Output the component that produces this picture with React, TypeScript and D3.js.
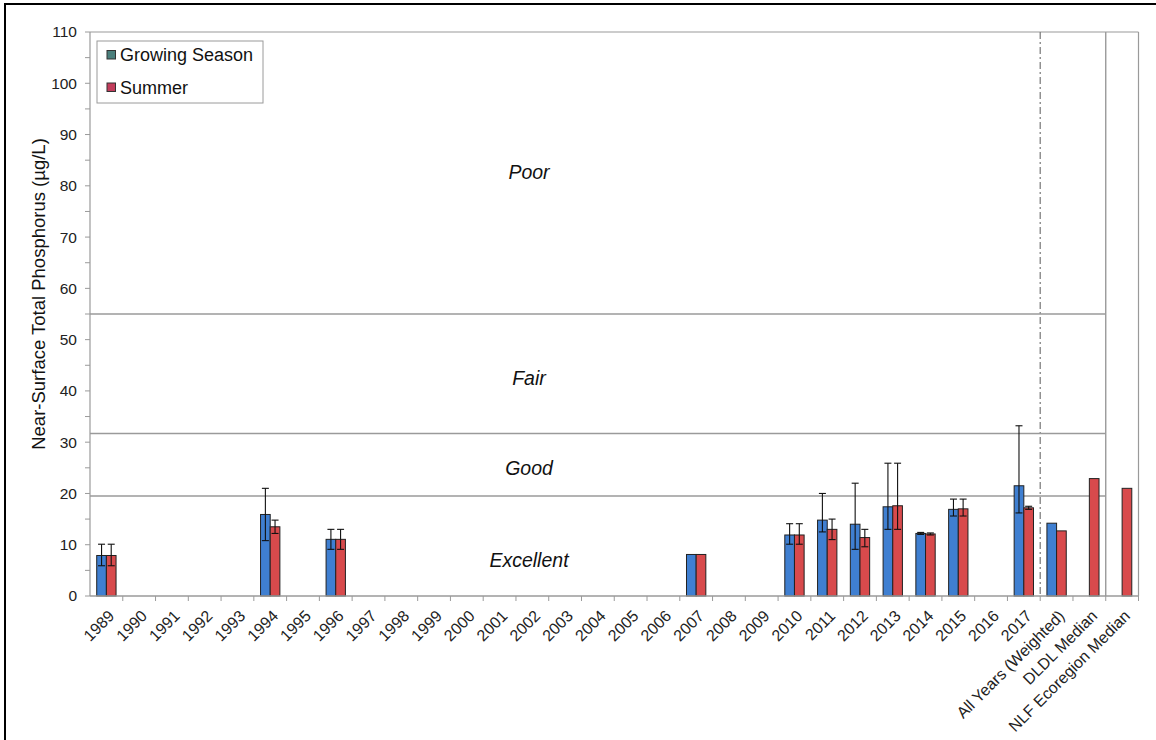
import React from 'react';
import * as d3 from 'd3';

const categories = [
  '1989','1990','1991','1992','1993','1994','1995','1996','1997','1998','1999','2000','2001','2002','2003','2004','2005','2006','2007','2008','2009','2010','2011','2012','2013','2014','2015','2016','2017',
  'All Years (Weighted)','DLDL Median','NLF Ecoregion Median'
];
const N = null;
const growing =    [7.9,N,N,N,N,15.9,N,11.05,N,N,N,N,N,N,N,N,N,N,8.1,N,N,11.9,14.8,14.0,17.4,12.2,16.9,N,21.5,14.2,N,N];
const growingLow = [5.9,N,N,N,N,10.8,N,9.1,N,N,N,N,N,N,N,N,N,N,N,N,N,10.1,12.5,9.1,13.0,12.0,15.6,N,16.2,N,N,N];
const growingHigh= [10.1,N,N,N,N,21.0,N,13.0,N,N,N,N,N,N,N,N,N,N,N,N,N,14.1,20.0,22.0,25.9,12.4,18.9,N,33.2,N,N,N];
const summer =     [7.9,N,N,N,N,13.5,N,11.05,N,N,N,N,N,N,N,N,N,N,8.1,N,N,11.9,13.0,11.4,17.6,12.1,17.0,N,17.2,12.7,22.9,21.0];
const summerLow =  [5.9,N,N,N,N,12.2,N,9.1,N,N,N,N,N,N,N,N,N,N,N,N,N,10.1,11.0,9.6,13.0,11.9,15.6,N,16.9,N,N,N];
const summerHigh = [10.1,N,N,N,N,14.8,N,13.0,N,N,N,N,N,N,N,N,N,N,N,N,N,14.1,15.0,13.0,25.9,12.3,18.9,N,17.5,N,N,N];
const yTicks = [0,10,20,30,40,50,60,70,80,90,100,110];
const zoneLines = [55, 31.7, 19.5];
const zoneLabels = [
  { label: 'Poor', v: 82.7 },
  { label: 'Fair', v: 42.5 },
  { label: 'Good', v: 25 },
  { label: 'Excellent', v: 6.9 },
];
const seriesNames = ['Growing Season', 'Summer'];

const FONT = 'Liberation Sans, Arial, sans-serif';
const BLUE = '#3f7fd1';
const RED = '#d84a4c';
const GRID = '#9a9a9a';

export default function App() {
  const W = 1156, H = 740;
  const left = 90, right = 1138.5, top = 32, bottom = 596;
  const x = d3.scaleBand<string>().domain(categories).range([left, right]).padding(0);
  const y = d3.scaleLinear().domain([0, 110]).range([bottom, top]);
  const bw = x.bandwidth();
  const barW = bw * 0.295;
  const solidX = x('NLF Ecoregion Median')!;
  const dashX = x('All Years (Weighted)')!;
  const minorTicks = d3.range(0, 111, 5);

  const bars: React.ReactNode[] = [];
  const errs: React.ReactNode[] = [];
  categories.forEach((c, i) => {
    const cx = x(c)! + bw / 2;
    const series = [
      { v: growing[i], lo: growingLow[i], hi: growingHigh[i], color: BLUE, x0: cx - barW },
      { v: summer[i], lo: summerLow[i], hi: summerHigh[i], color: RED, x0: cx },
    ];
    series.forEach((s, k) => {
      if (s.v == null) return;
      bars.push(
        <rect key={`b${i}-${k}`} x={s.x0} y={y(s.v)} width={barW} height={y(0) - y(s.v)}
          fill={s.color} stroke="#222" strokeWidth={1} />
      );
      if (s.lo != null && s.hi != null) {
        const ex = s.x0 + barW / 2;
        errs.push(
          <g key={`e${i}-${k}`} stroke="#111" strokeWidth={1.1}>
            <line x1={ex} x2={ex} y1={y(s.lo)} y2={y(s.hi)} />
            <line x1={ex - 3.5} x2={ex + 3.5} y1={y(s.hi)} y2={y(s.hi)} />
            <line x1={ex - 3.5} x2={ex + 3.5} y1={y(s.lo)} y2={y(s.lo)} />
          </g>
        );
      }
    });
  });

  return (
    <svg width={W} height={H} style={{ position: 'absolute', left: 0, top: 0, background: '#fff' }}
      fontFamily={FONT}>
      <rect x={0} y={0} width={W} height={H} fill="#fff" />
      <rect x={5} y={4} width={W + 20} height={H + 20} fill="none" stroke="#000" strokeWidth={2} />

      {/* plot frame */}
      <line x1={left} x2={right} y1={top} y2={top} stroke={GRID} strokeWidth={1.2} />
      <line x1={right} x2={right} y1={top} y2={bottom} stroke={GRID} strokeWidth={1.2} />
      <line x1={solidX} x2={solidX} y1={top} y2={bottom} stroke={GRID} strokeWidth={1.4} />
      <line x1={dashX} x2={dashX} y1={top} y2={bottom} stroke="#777" strokeWidth={1.2} strokeDasharray="7,3,2,3" />

      {zoneLines.map(v => (
        <line key={v} x1={left} x2={solidX} y1={y(v)} y2={y(v)} stroke={GRID} strokeWidth={1.5} />
      ))}
      {zoneLabels.map(z => (
        <text key={z.label} x={529} y={y(z.v)} dy="0.35em" textAnchor="middle" fontStyle="italic"
          fontSize={19.5} fill="#111">{z.label}</text>
      ))}

      {bars}
      {errs}

      {/* y axis */}
      <line x1={left} x2={left} y1={top} y2={bottom} stroke={GRID} strokeWidth={1.2} />
      {minorTicks.map(t => (
        <line key={`mt${t}`} x1={left - 5} x2={left} y1={y(t)} y2={y(t)} stroke={GRID} strokeWidth={1} />
      ))}
      {yTicks.map(t => (
        <text key={`yt${t}`} x={left - 13} y={y(t)} dy="0.35em" textAnchor="end" fontSize={15.5} fill="#222">{t}</text>
      ))}
      <text transform={`translate(45, 294) rotate(-90)`} textAnchor="middle" fontSize={18.5} fill="#111">
        Near-Surface Total Phosphorus (µg/L)
      </text>

      {/* x axis */}
      <line x1={left} x2={right} y1={bottom} y2={bottom} stroke={GRID} strokeWidth={1.5} />
      {categories.map((c, i) => (
        <line key={`xt${i}`} x1={x(c)! + bw} x2={x(c)! + bw} y1={bottom} y2={bottom + 5} stroke={GRID} strokeWidth={1} />
      ))}
      {categories.map((c, i) => (
        <text key={`xl${i}`} transform={`translate(${x(c)! + bw / 2 + 5}, ${bottom + 17}) rotate(-45)`}
          textAnchor="end" dy="0.35em" fontSize={16} fill="#222">{c}</text>
      ))}

      {/* legend */}
      <rect x={97} y={41} width={166} height={62} fill="#fff" stroke={GRID} strokeWidth={1} />
      <rect x={107} y={50.5} width={8.5} height={8.5} fill="#4a7f7c" stroke="#333" strokeWidth={1} />
      <text x={120} y={55} dy="0.35em" fontSize={18} fill="#111">{seriesNames[0]}</text>
      <rect x={107} y={83} width={8.5} height={8.5} fill="#c23d5c" stroke="#333" strokeWidth={1} />
      <text x={120} y={87.5} dy="0.35em" fontSize={18} fill="#111">{seriesNames[1]}</text>
    </svg>
  );
}
